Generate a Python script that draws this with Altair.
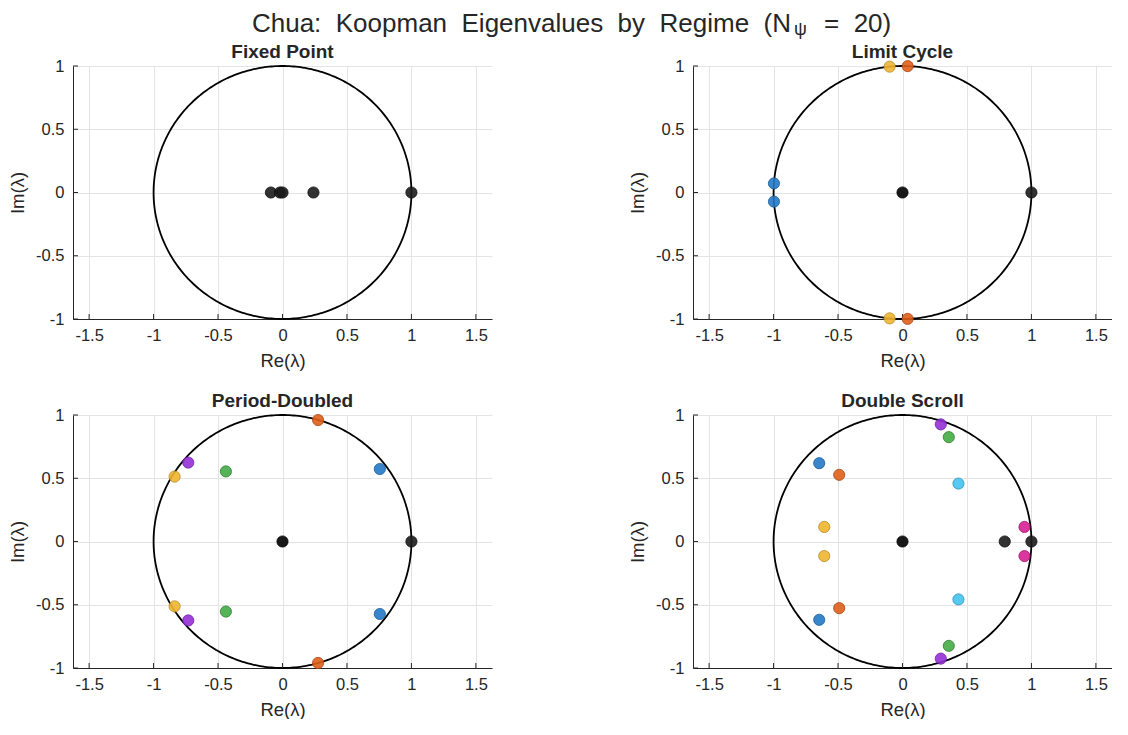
import numpy as np
import pandas as pd
import altair as alt

FONT = "Liberation Sans"

# ---------------- data ----------------
fp_re = [-0.09, -0.02, 0.0, 0.24, 1.0]
fp_im = [0.0, 0.0, 0.0, 0.0, 0.0]
fp_col = ["dark", "dark", "dark", "dark", "dark"]

lc_re = [0.0, 1.0, -0.997, -0.997, -0.10, -0.10, 0.04, 0.04]
lc_im = [0.0, 0.0, 0.072, -0.072, 0.995, -0.995, 0.999, -0.999]
lc_col = ["center", "dark", "blue", "blue", "yellow", "yellow", "orange", "orange"]

pd_re = [0.0, 1.0, 0.276, 0.276, -0.731, -0.731, -0.837, -0.837, -0.439, -0.439, 0.755, 0.755]
pd_im = [0.0, 0.0, 0.960, -0.960, 0.624, -0.624, 0.513, -0.513, 0.554, -0.554, 0.573, -0.573]
pd_col = ["center", "dark", "orange", "orange", "purple", "purple", "yellow", "yellow",
          "green", "green", "blue", "blue"]

ds_re = [0.0, 0.793, 1.0, 0.297, 0.297, 0.359, 0.359, -0.646, -0.646, -0.491, -0.491,
         0.434, 0.434, -0.607, -0.607, 0.946, 0.946]
ds_im = [0.0, 0.0, 0.0, 0.926, -0.926, 0.825, -0.825, 0.619, -0.619, 0.527, -0.527,
         0.458, -0.458, 0.115, -0.115, 0.115, -0.115]
ds_col = ["center", "dark", "dark", "purple", "purple", "green", "green", "blue", "blue",
          "orange", "orange", "cyan", "cyan", "yellow", "yellow", "magenta", "magenta"]

panel_titles = ["Fixed Point", "Limit Cycle", "Period-Doubled", "Double Scroll"]
x_ticks = [-1.5, -1.0, -0.5, 0.0, 0.5, 1.0, 1.5]
y_ticks = [-1.0, -0.5, 0.0, 0.5, 1.0]

FILL = {"center": "#000000", "dark": "#1c1c1c", "blue": "#2479c8", "orange": "#df5e18",
        "yellow": "#efb530", "purple": "#9330d6", "green": "#45ab46", "cyan": "#45c3ee",
        "magenta": "#d82093"}
STROKE = {"center": "#000000", "dark": "#0d0d0d", "blue": "#1b5c99", "orange": "#a84610",
          "yellow": "#b88a20", "purple": "#6a1fa0", "green": "#2f7d30", "cyan": "#2f93b8",
          "magenta": "#a2166c"}

# unit circle (reference geometry)
theta = np.linspace(0, 2 * np.pi, 361)
circ_df = pd.DataFrame({"re": np.cos(theta), "im": np.sin(theta), "t": np.arange(361)})

W, H = 419, 253
XDOM = [-1.625, 1.625]
YDOM = [-1.0, 1.0]
AX_COL = "#262626"


def xenc():
    return alt.X("re:Q", scale=alt.Scale(domain=XDOM, nice=False, zero=False),
                 axis=alt.Axis(values=x_ticks, title="Re(λ)",
                               labelExpr="toString(datum.value)"))


def yenc():
    return alt.Y("im:Q", scale=alt.Scale(domain=YDOM, nice=False, zero=False),
                 axis=alt.Axis(values=y_ticks, title="Im(λ)",
                               labelExpr="toString(datum.value)"))


def panel(re, im, cols, title):
    df = pd.DataFrame({"re": re, "im": im, "c": cols})
    df["fill"] = df["c"].map(FILL)
    df["stroke"] = df["c"].map(STROKE)
    circle = alt.Chart(circ_df).mark_line(color="black", strokeWidth=1.8).encode(
        x=xenc(), y=yenc(), order="t:Q")
    xt = alt.Chart(pd.DataFrame({"v": x_ticks})).mark_rule(color=AX_COL, strokeWidth=1).encode(
        x=alt.X("v:Q", scale=alt.Scale(domain=XDOM, nice=False, zero=False)),
        y=alt.value(H), y2=alt.value(H - 5))
    yt = alt.Chart(pd.DataFrame({"v": y_ticks})).mark_rule(color=AX_COL, strokeWidth=1).encode(
        y=alt.Y("v:Q", scale=alt.Scale(domain=YDOM, nice=False, zero=False)),
        x=alt.value(0), x2=alt.value(5))
    pts = alt.Chart(df).mark_circle(size=125, fillOpacity=0.9, strokeWidth=0.8, opacity=1).encode(
        x=xenc(), y=yenc(),
        fill=alt.Fill("fill:N", scale=None),
        stroke=alt.Stroke("stroke:N", scale=None))
    return alt.layer(circle, xt, yt, pts).properties(
        width=W, height=H,
        title=alt.TitleParams(title, fontSize=19, fontWeight="bold", color="#262626",
                              font=FONT, offset=-4))


p1 = panel(fp_re, fp_im, fp_col, panel_titles[0])
p2 = panel(lc_re, lc_im, lc_col, panel_titles[1])
p3 = panel(pd_re, pd_im, pd_col, panel_titles[2])
p4 = panel(ds_re, ds_im, ds_col, panel_titles[3])

# header with subscripted title
NB = "\u00a0\u00a0"
hdr_text = ["Chua:" + NB + "Koopman" + NB + "Eigenvalues" + NB + "by" + NB + "Regime" + NB + "(N",
            "ψ", "=" + NB + "20)"]
HX = 718
HY = 16
h_main = alt.Chart(pd.DataFrame({"t": [hdr_text[0]]})).mark_text(
    align="right", baseline="middle", fontSize=26, font=FONT, color="#262626").encode(
    text="t:N", x=alt.value(HX), y=alt.value(HY))
h_sub = alt.Chart(pd.DataFrame({"t": [hdr_text[1]]})).mark_text(
    align="left", baseline="middle", fontSize=18, font=FONT, color="#262626", dy=6).encode(
    text="t:N", x=alt.value(HX + 3), y=alt.value(HY))
h_end = alt.Chart(pd.DataFrame({"t": [hdr_text[2]]})).mark_text(
    align="left", baseline="middle", fontSize=26, font=FONT, color="#262626").encode(
    text="t:N", x=alt.value(HX + 33), y=alt.value(HY))
header = alt.layer(h_main, h_sub, h_end).properties(width=1000, height=22)

row1 = alt.hconcat(p1, p2, spacing=136)
row2 = alt.hconcat(p3, p4, spacing=136)
body = alt.vconcat(row1, row2, spacing=22)

chart = alt.vconcat(header, body, spacing=4).properties(
    padding={"left": 0, "top": 0, "right": 0, "bottom": 0}
).configure_view(strokeWidth=0).configure_axis(
    grid=True, gridColor="#e4e4e4", gridWidth=1,
    domainColor=AX_COL, domainWidth=1,
    ticks=False, tickSize=0,
    labelFont=FONT, labelFontSize=16.5, labelColor=AX_COL, labelPadding=8,
    titleFont=FONT, titleFontSize=18.5, titleColor=AX_COL, titleFontWeight="normal",
).configure_axisX(titlePadding=8).configure_axisY(titlePadding=8, labelPadding=9)

chart.save("out.html", embed_options={"renderer": "svg", "actions": False})
